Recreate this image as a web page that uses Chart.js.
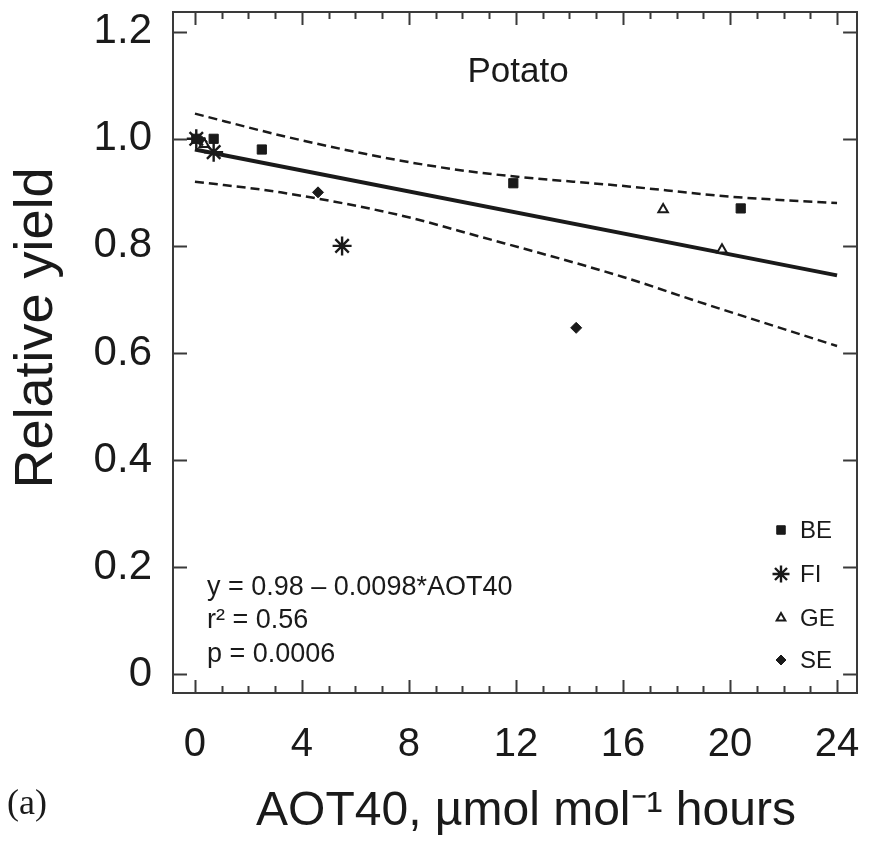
<!DOCTYPE html>
<html>
<head>
<meta charset="utf-8">
<script src="https://cdn.jsdelivr.net/npm/chart.js@4/dist/chart.umd.min.js"></script>
<style>
  html, body { margin: 0; padding: 0; background: #ffffff; }
  #wrap { position: relative; width: 869px; height: 841px; }
</style>
</head>
<body>
<div id="wrap"><canvas id="c" width="869" height="841"></canvas></div>
<script>
// ---- Data ----
const xTickValues = [0, 4, 8, 12, 16, 20, 24];
const yTickValues = [0, 0.2, 0.4, 0.6, 0.8, 1.0, 1.2];

const beX = [0.05, 0.7, 2.5, 11.9, 20.4];
const beY = [1.0, 1.0, 0.98, 0.917, 0.87];

const fiX = [0.05, 0.7, 5.5];
const fiY = [1.0, 0.975, 0.80];

const geX = [0.35, 17.5, 19.7];
const geY = [0.99, 0.868, 0.793];

const seX = [0.25, 4.6, 14.25];
const seY = [0.995, 0.90, 0.647];

const fitX = [0, 24];
const fitY = [0.98, 0.745];

const upperX = [0, 3.4, 7.6, 10.6, 16.2, 20, 24];
const upperY = [1.047, 1.004, 0.960, 0.937, 0.911, 0.892, 0.880];

const lowerX = [0, 3.2, 7.6, 10.6, 16.0, 18.8, 24];
const lowerY = [0.92, 0.90, 0.858, 0.818, 0.742, 0.696, 0.613];

const seriesNames = ['BE', 'FI', 'GE', 'SE'];
const cropName = 'Potato';
const equationLines = ['y = 0.98 \u2013 0.0098*AOT40', 'r\u00B2 = 0.56', 'p = 0.0006'];
const xTitle = 'AOT40, \u00B5mol mol\u207B\u00B9 hours';
const yTitle = 'Relative yield';
const panelLabel = '(a)';

const pts = (xs, ys) => xs.map((x, i) => ({x: x, y: ys[i]}));

const INK = '#1a1a1a';
const FRAME = '#3a3a3a';
const FONT = "'Liberation Sans', Arial, sans-serif";

const markerStyles = [
  {pointStyle: 'rect', radius: 6.5, backgroundColor: INK, borderColor: INK, borderWidth: 1},
  {pointStyle: 'star', radius: 9.5, backgroundColor: INK, borderColor: INK, borderWidth: 2.4},
  {pointStyle: 'triangle', radius: 5.5, backgroundColor: '#ffffff', borderColor: INK, borderWidth: 2},
  {pointStyle: 'rectRot', radius: 5.5, backgroundColor: INK, borderColor: INK, borderWidth: 1}
];

function scatterSet(label, data, st) {
  return {
    type: 'scatter', label: label, data: data,
    pointStyle: st.pointStyle, pointRadius: st.radius,
    pointBackgroundColor: st.backgroundColor, pointBorderColor: st.borderColor,
    pointBorderWidth: st.borderWidth, showLine: false, order: 0
  };
}

function noPad(s) { s.paddingTop = 0; s.paddingBottom = 0; s.paddingLeft = 0; s.paddingRight = 0; }

const annotate = {
  id: 'annotate',
  afterDraw(chart) {
    const ctx = chart.ctx;
    const xs = chart.scales.x, ys = chart.scales.y;
    const area = chart.chartArea;
    ctx.save();
    // inward ticks
    ctx.strokeStyle = FRAME;
    ctx.lineWidth = 2;
    ctx.beginPath();
    for (let v = 0; v <= 24; v++) {
      const px = Math.round(xs.getPixelForValue(v)) + 0.5;
      const len = (v % 4 === 0) ? 13 : 7;
      ctx.moveTo(px, area.bottom); ctx.lineTo(px, area.bottom - len);
      ctx.moveTo(px, area.top); ctx.lineTo(px, area.top + len);
    }
    yTickValues.forEach(v => {
      const py = Math.round(ys.getPixelForValue(v)) + 0.5;
      ctx.moveTo(area.left, py); ctx.lineTo(area.left + 14, py);
      ctx.moveTo(area.right, py); ctx.lineTo(area.right - 14, py);
    });
    ctx.stroke();

    ctx.fillStyle = INK;
    // axis titles
    ctx.textAlign = 'center';
    ctx.textBaseline = 'middle';
    ctx.font = '48px ' + FONT;
    ctx.fillText(xTitle, 526, 812);
    ctx.save();
    ctx.translate(37, 328);
    ctx.rotate(-Math.PI / 2);
    ctx.font = '54px ' + FONT;
    ctx.fillText(yTitle, 0, 0);
    ctx.restore();

    // crop name
    ctx.font = '35px ' + FONT;
    ctx.fillText(cropName, 518, 72);

    // equation
    ctx.font = '27px ' + FONT;
    ctx.textAlign = 'left';
    const eqY = [588, 621, 655];
    equationLines.forEach((t, i) => ctx.fillText(t, 207, eqY[i]));

    // legend
    const legY = [530, 574, 618, 660];
    ctx.font = '24px ' + FONT;
    seriesNames.forEach((name, i) => {
      const st = markerStyles[i];
      ctx.fillStyle = st.backgroundColor;
      ctx.strokeStyle = st.borderColor;
      ctx.lineWidth = st.borderWidth;
      Chart.helpers.drawPoint(ctx, {pointStyle: st.pointStyle, radius: i === 1 ? 8.5 : st.radius - 0.5, borderWidth: st.borderWidth}, 781, legY[i]);
      ctx.fillStyle = INK;
      ctx.fillText(name, 800, legY[i] + 1);
    });

    // panel label
    ctx.font = "36px 'Liberation Serif', 'Times New Roman', serif";
    ctx.textAlign = 'left';
    ctx.fillText(panelLabel, 7, 805);
    ctx.restore();
  }
};

new Chart(document.getElementById('c'), {
  type: 'scatter',
  data: {
    datasets: [
      {type: 'line', label: 'upper', data: pts(upperX, upperY), borderColor: INK, borderWidth: 2.5,
       borderDash: [9, 5], pointRadius: 0, cubicInterpolationMode: 'monotone', fill: false, order: 2},
      {type: 'line', label: 'lower', data: pts(lowerX, lowerY), borderColor: INK, borderWidth: 2.5,
       borderDash: [9, 5], pointRadius: 0, cubicInterpolationMode: 'monotone', fill: false, order: 2},
      {type: 'line', label: 'fit', data: pts(fitX, fitY), borderColor: INK, borderWidth: 4,
       pointRadius: 0, fill: false, order: 1},
      scatterSet('BE', pts(beX, beY), markerStyles[0]),
      scatterSet('FI', pts(fiX, fiY), markerStyles[1]),
      scatterSet('GE', pts(geX, geY), markerStyles[2]),
      scatterSet('SE', pts(seX, seY), markerStyles[3])
    ]
  },
  options: {
    responsive: false,
    animation: false,
    layout: {padding: {left: 0, top: 10, right: 10, bottom: 0}},
    plugins: {legend: {display: false}, tooltip: {enabled: false}},
    scales: {
      x: {
        type: 'linear', position: 'bottom', min: -0.82, max: 24.75,
        afterBuildTicks: s => { s.ticks = xTickValues.map(v => ({value: v})); },
        afterFit: s => { s.height = 148; noPad(s); },
        grid: {display: false, drawTicks: false},
        border: {display: true, color: FRAME, width: 2},
        ticks: {color: INK, padding: 28, font: {family: FONT, size: 40}, maxRotation: 0,
                callback: v => String(v)},
        title: {display: false, text: xTitle}
      },
      y: {
        type: 'linear', position: 'left', min: -0.035, max: 1.237,
        afterBuildTicks: s => { s.ticks = yTickValues.map(v => ({value: v})); },
        afterFit: s => { s.width = 173; noPad(s); },
        grid: {display: false, drawTicks: false},
        border: {display: true, color: FRAME, width: 2},
        ticks: {color: INK, padding: 21, font: {family: FONT, size: 42},
                callback: v => (v === 0 ? '0' : v.toFixed(1))},
        title: {display: false, text: yTitle}
      },
      xTop: {
        type: 'linear', position: 'top', min: -0.82, max: 24.75,
        afterFit: s => { s.height = 0; noPad(s); },
        grid: {display: false, drawTicks: false},
        border: {display: true, color: FRAME, width: 2},
        ticks: {display: false}
      },
      yRight: {
        type: 'linear', position: 'right', min: -0.035, max: 1.237,
        afterFit: s => { s.width = 0; noPad(s); },
        grid: {display: false, drawTicks: false},
        border: {display: true, color: FRAME, width: 2},
        ticks: {display: false}
      }
    }
  },
  plugins: [annotate]
});
</script>
</body>
</html>
